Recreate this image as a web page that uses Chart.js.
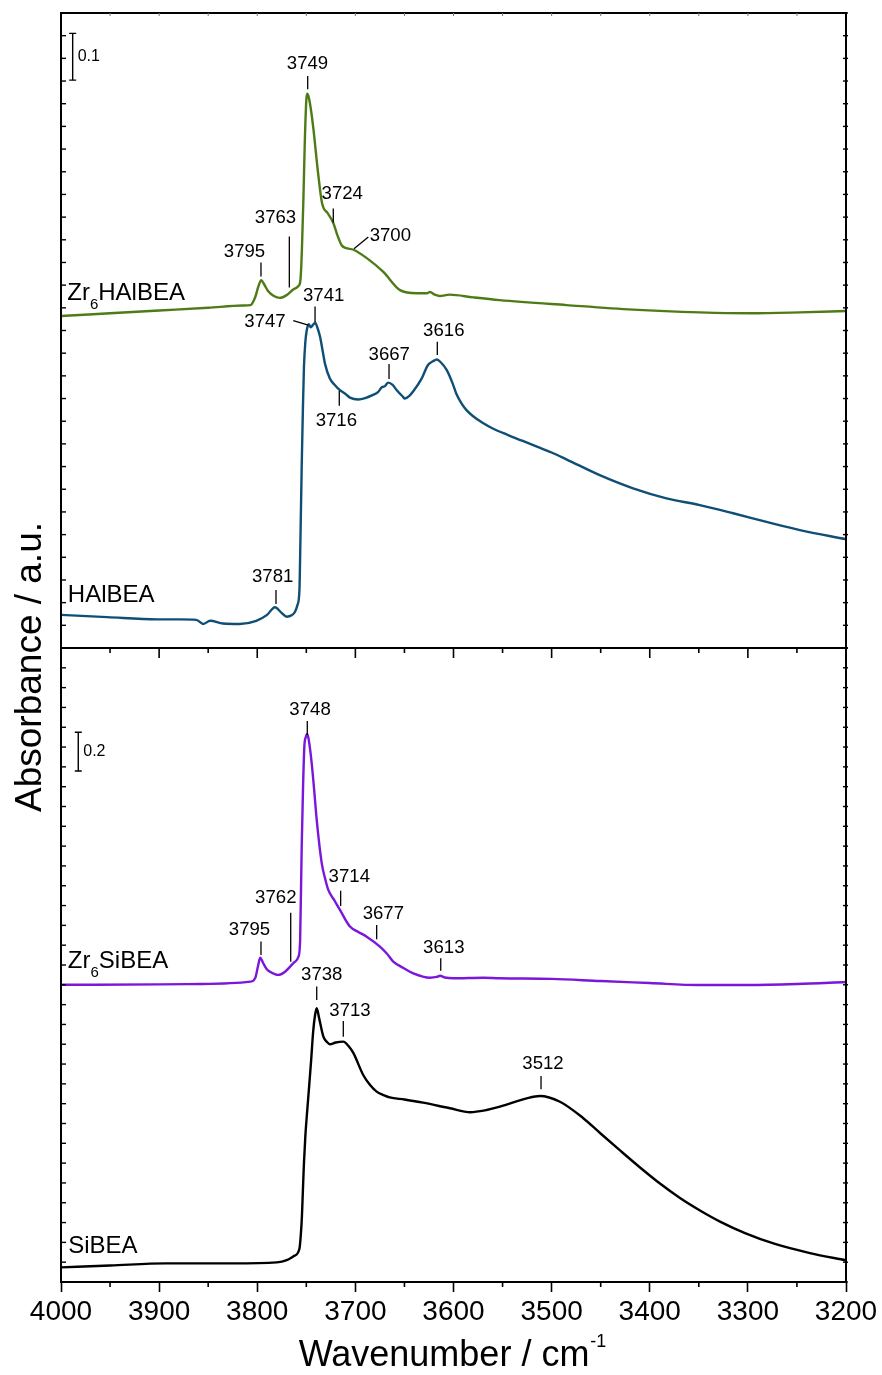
<!DOCTYPE html>
<html>
<head>
<meta charset="utf-8">
<script src="https://cdn.jsdelivr.net/npm/chart.js@4.4.1/dist/chart.umd.min.js"></script>
<style>
html,body{margin:0;padding:0;background:#fff;}
canvas{display:block;}
</style>
</head>
<body>
<canvas id="c" width="882" height="1375"></canvas>
<script>
const FONT = '"Liberation Sans", Arial, Helvetica, sans-serif';

// ---- x axis ----
const xTicks = [4000, 3900, 3800, 3700, 3600, 3500, 3400, 3300, 3200];

// ---- top panel: Zr6HAlBEA ----
const wnZrHAl = [4000,3950,3900,3850,3815,3807,3802,3799,3796,3793,3789,3783,3777,3770,3763,3758,3756,3754.5,3753,3751.5,3750,3749,3747.5,3745.5,3743,3738,3734,3728,3722.5,3718,3714,3710,3702,3688,3671.5,3654.5,3637.5,3627,3624,3619,3614,3604,3580,3553,3485,3417,3349,3298,3247,3200];
const absZrHAl = [0.732,0.738,0.744,0.750,0.755,0.756,0.774,0.796,0.811,0.802,0.787,0.776,0.772,0.778,0.791,0.798,0.811,0.877,0.987,1.119,1.208,1.222,1.214,1.190,1.149,1.047,0.981,0.958,0.937,0.908,0.888,0.882,0.878,0.859,0.829,0.789,0.782,0.782,0.785,0.779,0.776,0.779,0.773,0.767,0.756,0.746,0.740,0.738,0.740,0.743];

// ---- top panel: HAlBEA ----
const wnHAl = [4000,3953,3902,3879,3862,3855,3848,3835,3818,3801,3790,3782,3776,3770,3765,3761.5,3759,3757,3756,3754.7,3753.5,3752.4,3751,3749.6,3747.5,3745.5,3743,3741,3738.5,3736,3733.5,3731,3726,3721,3716,3710,3705.5,3697,3690,3682,3677,3673,3670,3666.5,3662,3658,3652,3649.5,3645,3641,3632.5,3626,3621,3617,3613,3607,3601,3597,3592,3587,3580,3570,3560,3545,3530,3515,3500,3485,3451,3417,3383,3349,3315,3281,3247,3200];
const absHAl = [0.073,0.068,0.063,0.063,0.062,0.053,0.060,0.054,0.053,0.060,0.073,0.090,0.079,0.069,0.072,0.080,0.095,0.128,0.238,0.400,0.525,0.620,0.674,0.700,0.714,0.707,0.713,0.717,0.705,0.686,0.657,0.627,0.594,0.580,0.569,0.560,0.552,0.548,0.551,0.558,0.564,0.575,0.577,0.585,0.580,0.569,0.555,0.550,0.556,0.566,0.594,0.624,0.632,0.636,0.630,0.613,0.584,0.560,0.540,0.525,0.511,0.496,0.484,0.470,0.457,0.444,0.431,0.416,0.381,0.352,0.330,0.315,0.297,0.278,0.260,0.240];

// ---- bottom panel: Zr6SiBEA ----
const wnZrSi = [4000,3900,3858,3807,3802,3799,3797,3794,3790.5,3787,3778.5,3772,3766.5,3762,3758,3756.3,3754.7,3753.4,3752,3750.5,3749,3747.5,3744.5,3742,3739.4,3734.3,3731,3727.6,3721,3715.7,3705.5,3697,3688.5,3675,3668,3661.4,3651,3641,3624,3617,3613.7,3609,3600,3570,3553,3500,3450,3400,3350,3300,3250,3200];
const absZrSi = [1.500,1.502,1.504,1.516,1.535,1.600,1.637,1.610,1.580,1.566,1.550,1.565,1.592,1.615,1.642,1.726,2.197,2.484,2.702,2.751,2.766,2.736,2.618,2.484,2.332,2.114,2.039,1.979,1.923,1.878,1.794,1.767,1.743,1.693,1.658,1.617,1.585,1.558,1.536,1.540,1.546,1.537,1.533,1.536,1.533,1.530,1.519,1.509,1.499,1.499,1.504,1.514];

// ---- bottom panel: SiBEA ----
const wnSi = [4000,3950,3893,3825,3780,3770,3763,3757,3755.5,3754.5,3753.5,3752.5,3751,3749,3747,3745,3743,3741,3739.4,3737,3732.6,3729,3726,3720,3712.3,3707,3702,3692,3685,3678.3,3670,3665,3650,3631,3603.6,3583,3568,3552.6,3525.4,3512,3491.5,3468,3450.7,3430.3,3409.9,3389.6,3369.2,3348.8,3328.4,3302.9,3272.4,3236.7,3200];
const absSi = [0.074,0.083,0.094,0.094,0.099,0.110,0.130,0.168,0.245,0.330,0.460,0.590,0.735,0.870,0.995,1.125,1.265,1.350,1.382,1.333,1.238,1.212,1.200,1.209,1.213,1.191,1.155,1.045,0.994,0.961,0.941,0.932,0.921,0.905,0.877,0.857,0.866,0.885,0.927,0.939,0.910,0.828,0.752,0.664,0.578,0.497,0.424,0.361,0.305,0.247,0.192,0.146,0.109];

// ---- peak annotations: text, axis, text wn, text value (baseline), line start wn/value, line end wn/value ----
const peakLabels = [
  ['3749','yTop',3748.8,1.276, 3748.6,1.261, 3748.6,1.232],
  ['3795','yTop',3813.0,0.863, 3796.2,0.850, 3796.2,0.819],
  ['3763','yTop',3781.4,0.938, 3767.3,0.907, 3767.3,0.795],
  ['3724','yTop',3713.4,0.990, 3722.5,0.969, 3722.5,0.938],
  ['3700','yTop',3664.4,0.897, 3701.4,0.880, 3686.8,0.906],
  ['3741','yTop',3732.3,0.764, 3741.1,0.753, 3741.1,0.719],
  ['3747','yTop',3792.1,0.708, 3763.3,0.722, 3747.9,0.712],
  ['3716','yTop',3719.4,0.490, 3716.4,0.567, 3716.4,0.534],
  ['3667','yTop',3665.5,0.635, 3665.7,0.626, 3665.7,0.593],
  ['3616','yTop',3609.9,0.688, 3616.5,0.675, 3616.5,0.646],
  ['3781','yTop',3784.3,0.146, 3780.9,0.128, 3780.9,0.097],
  ['3748','yBot',3746.2,2.862, 3749.0,2.832, 3749.0,2.761],
  ['3795','yBot',3807.9,1.751, 3796.2,1.718, 3796.2,1.651],
  ['3762','yBot',3781.1,1.915, 3765.9,1.864, 3765.9,1.617],
  ['3714','yBot',3706.2,2.021, 3715.0,1.975, 3715.0,1.898],
  ['3677','yBot',3671.5,1.831, 3678.3,1.802, 3678.3,1.730],
  ['3613','yBot',3609.9,1.662, 3613.0,1.634, 3613.0,1.571],
  ['3738','yBot',3734.3,1.524, 3739.4,1.491, 3739.4,1.423],
  ['3713','yBot',3705.5,1.343, 3712.3,1.317, 3712.3,1.238],
  ['3512','yBot',3508.8,1.074, 3510.8,1.040, 3510.8,0.973]
];

// ---- sample names: main text, subscript, rest, axis, wn, value (baseline) ----
const seriesNames = [
  ['Zr','6','HAlBEA','yTop',3993.6,0.767],
  ['HAlBEA','','','yTop',3993.0,0.101],
  ['Zr','6','SiBEA','yBot',3993.0,1.585],
  ['SiBEA','','','yBot',3992.6,0.146]
];

// ---- scale bars: label, axis, wn, from, to ----
const scaleBars = [
  ['0.1','yTop',3988.1,1.252,1.355],
  ['0.2','yBot',3982.4,2.579,2.775]
];

const COLORS = {zrhal:'#4f7b17', hal:'#0f4f76', zrsi:'#7a17da', si:'#000000'};

function pts(wn, ab){ return wn.map((w,i)=>({x:w, y:ab[i]})); }

const deco = {
  id:'deco',
  beforeDraw(chart){
    const c = chart.ctx;
    c.save(); c.fillStyle='#fff'; c.fillRect(0,0,chart.width,chart.height); c.restore();
  },
  afterDatasetsDraw(chart){
    const c = chart.ctx, a = chart.chartArea, x = chart.scales.x;
    const S = {yTop: chart.scales.yTop, yBot: chart.scales.yBot};
    c.save();
    c.strokeStyle='#000'; c.fillStyle='#000';
    // frame
    c.lineWidth = 2;
    c.beginPath();
    c.moveTo(a.left, a.bottom); c.lineTo(a.left, a.top); c.lineTo(a.right, a.top); c.lineTo(a.right, a.bottom);
    c.stroke();
    const yd = S.yTop.getPixelForValue(0);
    c.beginPath(); c.moveTo(a.left, yd); c.lineTo(a.right, yd); c.stroke();
    // x minor ticks and divider ticks
    c.lineWidth = 1.6;
    for (let w = 3200; w <= 4000; w += 50) {
      const px = x.getPixelForValue(w);
      const major = (w % 100 === 0);
      c.beginPath(); c.moveTo(px, yd); c.lineTo(px, yd + (major ? 10 : 5)); c.stroke();
      if (!major) { c.beginPath(); c.moveTo(px, a.bottom); c.lineTo(px, a.bottom + 5); c.stroke(); }
    }
    c.lineWidth = 1; c.strokeStyle = '#777';
    for (let w = 3250; w < 4000; w += 50) {
      const px = x.getPixelForValue(w);
      c.beginPath(); c.moveTo(px, a.top); c.lineTo(px, a.top + 3); c.stroke();
    }
    c.strokeStyle = '#000'; c.lineWidth = 1.4;
    // y ticks
    const yt = (sc, lo, hi, st) => {
      for (let k = 0; lo + k*st <= hi + 1e-9; k++) {
        const py = sc.getPixelForValue(lo + k*st);
        c.beginPath(); c.moveTo(a.left, py); c.lineTo(a.left + 5, py); c.stroke();
        c.beginPath(); c.moveTo(a.right - 3, py); c.lineTo(a.right + 2, py); c.stroke();
      }
    };
    yt(S.yTop, 0, 1.4, 0.05);
    yt(S.yBot, 0, 3.2, 0.1);

    // scale bars
    c.lineWidth = 1.4;
    scaleBars.forEach(([lab, ax, w, v1, v2]) => {
      const px = x.getPixelForValue(w), p1 = S[ax].getPixelForValue(v1), p2 = S[ax].getPixelForValue(v2);
      c.beginPath();
      c.moveTo(px, p1); c.lineTo(px, p2);
      c.moveTo(px-3.5, p1); c.lineTo(px+3.5, p1);
      c.moveTo(px-3.5, p2); c.lineTo(px+3.5, p2);
      c.stroke();
      c.font = '16px ' + FONT; c.textAlign = 'left'; c.textBaseline = 'middle';
      c.fillText(lab, px + 5, (p1 + p2)/2);
    });

    // peak labels
    c.lineWidth = 1.3;
    c.font = '18.6px ' + FONT; c.textAlign = 'center'; c.textBaseline = 'alphabetic';
    peakLabels.forEach(([t, ax, wt, vt, w1, v1, w2, v2]) => {
      const sc = S[ax];
      c.fillText(t, x.getPixelForValue(wt), sc.getPixelForValue(vt));
      c.beginPath();
      c.moveTo(x.getPixelForValue(w1), sc.getPixelForValue(v1));
      c.lineTo(x.getPixelForValue(w2), sc.getPixelForValue(v2));
      c.stroke();
    });

    // sample names
    c.textAlign = 'left'; c.textBaseline = 'alphabetic';
    seriesNames.forEach(([m, sub, rest, ax, w, v]) => {
      let px = x.getPixelForValue(w);
      const py = S[ax].getPixelForValue(v);
      c.font = '24px ' + FONT;
      c.fillText(m, px, py); px += c.measureText(m).width;
      if (sub) {
        c.font = '15px ' + FONT;
        c.fillText(sub, px, py + 9); px += c.measureText(sub).width;
        c.font = '24px ' + FONT;
        c.fillText(rest, px, py);
      }
    });

    // axis titles
    c.font = '36px ' + FONT; c.textAlign = 'left'; c.textBaseline = 'alphabetic';
    const xt = 'Wavenumber / cm';
    const xw = c.measureText(xt).width;
    c.font = '18px ' + FONT;
    const sw = c.measureText('-1').width;
    const x0 = (a.left + a.right)/2 - (xw + sw + 1)/2 - 1;
    c.font = '36px ' + FONT;
    c.fillText(xt, x0, 1366);
    c.font = '18px ' + FONT;
    c.fillText('-1', x0 + xw + 1, 1347);

    c.translate(41, 667);
    c.rotate(-Math.PI/2);
    c.font = '37px ' + FONT; c.textAlign = 'center';
    c.fillText('Absorbance / a.u.', 0, 0);
    c.restore();
  }
};

const ds = (label, wn, ab, color, axis) => ({
  label, data: pts(wn, ab), yAxisID: axis, borderColor: color, backgroundColor: color,
  borderWidth: 2.4, pointRadius: 0, fill: false, cubicInterpolationMode: 'monotone'
});

new Chart(document.getElementById('c'), {
  type: 'line',
  data: {
    datasets: [
      ds('Zr6HAlBEA', wnZrHAl, absZrHAl, COLORS.zrhal, 'yTop'),
      ds('HAlBEA', wnHAl, absHAl, COLORS.hal, 'yTop'),
      ds('Zr6SiBEA', wnZrSi, absZrSi, COLORS.zrsi, 'yBot'),
      ds('SiBEA', wnSi, absSi, COLORS.si, 'yBot')
    ]
  },
  options: {
    responsive: false,
    animation: false,
    devicePixelRatio: 1,
    layout: { padding: { left: 61, right: 36, top: 13, bottom: 43.4 } },
    plugins: { legend: { display: false }, tooltip: { enabled: false } },
    scales: {
      x: {
        type: 'linear', min: 3200, max: 4000, reverse: true,
        afterBuildTicks: s => { s.ticks = xTicks.map(v => ({ value: v })); },
        ticks: { padding: 3, color: '#000', font: { size: 28, family: FONT }, callback: v => String(v), maxRotation: 0, autoSkip: false },
        grid: { drawOnChartArea: false, drawTicks: true, tickLength: 10, tickWidth: 1.6, tickColor: '#000' },
        border: { display: true, color: '#000', width: 2 }
      },
      yTop: { type: 'linear', display: false, position: 'left', min: -1.3978, max: 1.4 },
      yBot: { type: 'linear', display: false, position: 'left', min: 0, max: 6.405 }
    }
  },
  plugins: [deco]
});
</script>
</body>
</html>
